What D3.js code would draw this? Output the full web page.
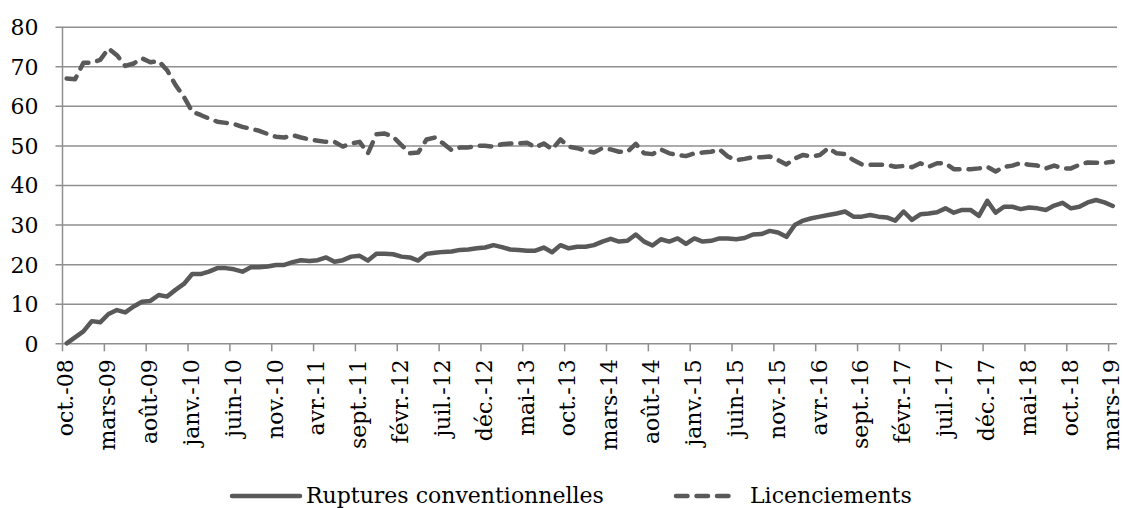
<!DOCTYPE html>
<html>
<head>
<meta charset="utf-8">
<style>
	html, body { margin: 0; padding: 0; background: white; }
	svg { display: block; font-family: "DejaVu Serif", serif; }
</style>
</head>
<body>
<svg class="chart" width="1123" height="508"></svg>

<script src="https://d3js.org/d3.v7.min.js"></script>
<script>

// month names and years for the category axis (oct. 2008 -> mars 2019)
var moisFr = ['janv.', 'févr.', 'mars', 'avr.', 'mai', 'juin', 'juil.', 'août', 'sept.', 'oct.', 'nov.', 'déc.']
var firstYear = 2008, firstMonth = 9, nMonths = 126

var categories = []
for (var k = 0; k < nMonths; k++) {
	var m = (firstMonth + k) % 12
	var y = firstYear + Math.floor((firstMonth + k) / 12)
	categories.push(moisFr[m] + '-' + String(y).slice(2))
}

var yTicks = [0, 10, 20, 30, 40, 50, 60, 70, 80]

var seriesNames = ['Ruptures conventionnelles', 'Licenciements']

var ruptures = [
	0, 1.5, 3, 5.6, 5.3, 7.4, 8.4, 7.8, 9.3, 10.5,
	10.7, 12.2, 11.8, 13.5, 15, 17.5, 17.5, 18.1, 19, 19,
	18.7, 18.1, 19.2, 19.2, 19.4, 19.8, 19.8, 20.5, 21, 20.8,
	21, 21.7, 20.6, 21, 21.9, 22.1, 20.9, 22.6, 22.6, 22.5,
	21.9, 21.7, 20.9, 22.6, 22.9, 23.1, 23.2, 23.6, 23.7, 24,
	24.2, 24.8, 24.3, 23.7, 23.6, 23.4, 23.4, 24.2, 23, 24.8,
	24, 24.4, 24.4, 24.8, 25.7, 26.4, 25.7, 25.9, 27.5, 25.7,
	24.7, 26.3, 25.7, 26.5, 25.1, 26.5, 25.7, 25.9, 26.5, 26.5,
	26.3, 26.6, 27.5, 27.6, 28.4, 28, 26.9, 29.9, 31, 31.6,
	32, 32.4, 32.8, 33.3, 32, 32, 32.4, 32, 31.8, 31,
	33.3, 31.2, 32.6, 32.8, 33.1, 34.1, 33, 33.7, 33.7, 32.2,
	36, 33, 34.5, 34.5, 33.9, 34.3, 34.1, 33.7, 34.8, 35.5,
	34.1, 34.5, 35.6, 36.2, 35.6, 34.7
]

var licenciements = [
	66.9, 66.7, 70.9, 70.9, 71.6, 74.5, 72.8, 70.1, 70.7, 72,
	71, 71.3, 69, 65.3, 62.3, 58.5, 57.7, 56.8, 56, 55.7,
	55.4, 54.7, 54.2, 53.7, 52.9, 52.2, 52, 52.6, 52, 51.5,
	51.2, 50.9, 50.9, 49.7, 50.5, 50.9, 48, 52.8, 53, 52.2,
	50.1, 48, 48.2, 51.5, 52, 50.5, 48.8, 49.5, 49.5, 49.9,
	49.9, 49.7, 50.3, 50.5, 50.5, 50.7, 49.5, 50.5, 49, 51.5,
	49.7, 49.3, 48.7, 48.2, 49.3, 49, 48.4, 48.4, 50.4, 48,
	47.8, 49, 48, 47.6, 47.3, 48, 48.2, 48.4, 49, 47.2,
	46.3, 46.6, 47, 47, 47.2, 46.3, 45.2, 46.7, 47.6, 47.2,
	47.6, 49.3, 48, 47.8, 46.3, 45.2, 45.1, 45.1, 45.1, 44.6,
	44.8, 44.5, 45.5, 44.6, 45.5, 45.5, 44, 44, 44, 44.2,
	44.6, 43.4, 44.6, 44.9, 45.6, 45.1, 44.9, 44.2, 44.9, 44.2,
	44.2, 45.1, 45.7, 45.6, 45.6, 45.9
]


var cfg = {
	left: 62.5,
	right: 1117,
	top: 26.7,
	bottom: 343.3,
	gridColor: '#8f8f8f',
	lineColor: '#595959',
	lineWidth: 4.5,
	dash: '11.5,9',
	fontSize: 22,
}

var svg = d3.select('.chart')

var x = d3.scaleBand()
	.domain(d3.range(categories.length))
	.range([cfg.left, cfg.right])
	.paddingInner(0).paddingOuter(0)

var y = d3.scaleLinear()
	.domain([0, 80])
	.range([cfg.bottom, cfg.top])

var xc = function(i) { return x(i) + x.bandwidth() / 2 }

// horizontal gridlines + y labels
var yAxis = d3.axisLeft(y)
	.tickValues(yTicks)
	.tickSize(-(cfg.right - cfg.left + 7))
	.tickPadding(17)
	.tickFormat(d3.format('d'))

var gy = svg.append('g')
	.attr('transform', 'translate(' + (cfg.left - 7) + ',0)')
	.call(yAxis)
gy.select('.domain').remove()
gy.selectAll('.tick line')
	.attr('stroke', cfg.gridColor)
	.attr('stroke-width', 1.5)
gy.selectAll('.tick text')
	.attr('font-family', '"DejaVu Serif", serif')
	.attr('font-size', cfg.fontSize)
	.attr('fill', '#000')
	.attr('dy', '0.36em')

// vertical axis line
svg.append('line')
	.attr('x1', cfg.left).attr('x2', cfg.left)
	.attr('y1', cfg.top).attr('y2', cfg.bottom)
	.attr('stroke', cfg.gridColor)
	.attr('stroke-width', 1.5)

// x tick marks at category boundaries, every 5 months
var tickIdx = d3.range(0, categories.length, 5)

svg.append('g').selectAll('line')
	.data(tickIdx)
	.enter().append('line')
		.attr('x1', function(i) { return x(i) })
		.attr('x2', function(i) { return x(i) })
		.attr('y1', cfg.bottom)
		.attr('y2', cfg.bottom + 8)
		.attr('stroke', cfg.gridColor)
		.attr('stroke-width', 1.5)

// x labels, rotated
var xAxis = d3.axisBottom(x)
	.tickValues(tickIdx)
	.tickSize(0)
	.tickFormat(function(i) { return categories[i] })

var gx = svg.append('g')
	.attr('transform', 'translate(0,' + cfg.bottom + ')')
	.call(xAxis)
gx.select('.domain').remove()
gx.selectAll('.tick text')
	.attr('font-family', '"DejaVu Serif", serif')
	.attr('font-size', cfg.fontSize)
	.attr('fill', '#000')
	.attr('text-anchor', 'end')
	.attr('transform', 'translate(0,16) rotate(-90)')
	.attr('x', 0)
	.attr('y', 0)
	.attr('dy', '0.3em')

// the two series
var line = d3.line()
	.x(function(d, i) { return xc(i) })
	.y(function(d) { return y(d) })

svg.append('path')
	.datum(licenciements)
	.attr('d', line)
	.attr('fill', 'none')
	.attr('stroke', cfg.lineColor)
	.attr('stroke-width', cfg.lineWidth)
	.attr('stroke-linecap', 'round')
	.attr('stroke-linejoin', 'round')
	.attr('stroke-dasharray', cfg.dash)

svg.append('path')
	.datum(ruptures)
	.attr('d', line)
	.attr('fill', 'none')
	.attr('stroke', cfg.lineColor)
	.attr('stroke-width', cfg.lineWidth)
	.attr('stroke-linecap', 'round')
	.attr('stroke-linejoin', 'round')

// legend
var legend = svg.append('g')
	.attr('font-family', '"DejaVu Serif", serif')
	.attr('font-size', cfg.fontSize)

var legendItems = [
	{ name: seriesNames[0], x1: 232, x2: 300, dash: null, tx: 306 },
	{ name: seriesNames[1], x1: 676, x2: 731, dash: cfg.dash, tx: 750 }
]

legendItems.forEach(function(it) {
	legend.append('line')
		.attr('x1', it.x1).attr('x2', it.x2)
		.attr('y1', 496).attr('y2', 496)
		.attr('stroke', cfg.lineColor)
		.attr('stroke-width', cfg.lineWidth)
		.attr('stroke-linecap', 'round')
		.attr('stroke-dasharray', it.dash)
	legend.append('text')
		.attr('x', it.tx)
		.attr('y', 503)
		.text(it.name)
})

</script>
</body>
</html>
